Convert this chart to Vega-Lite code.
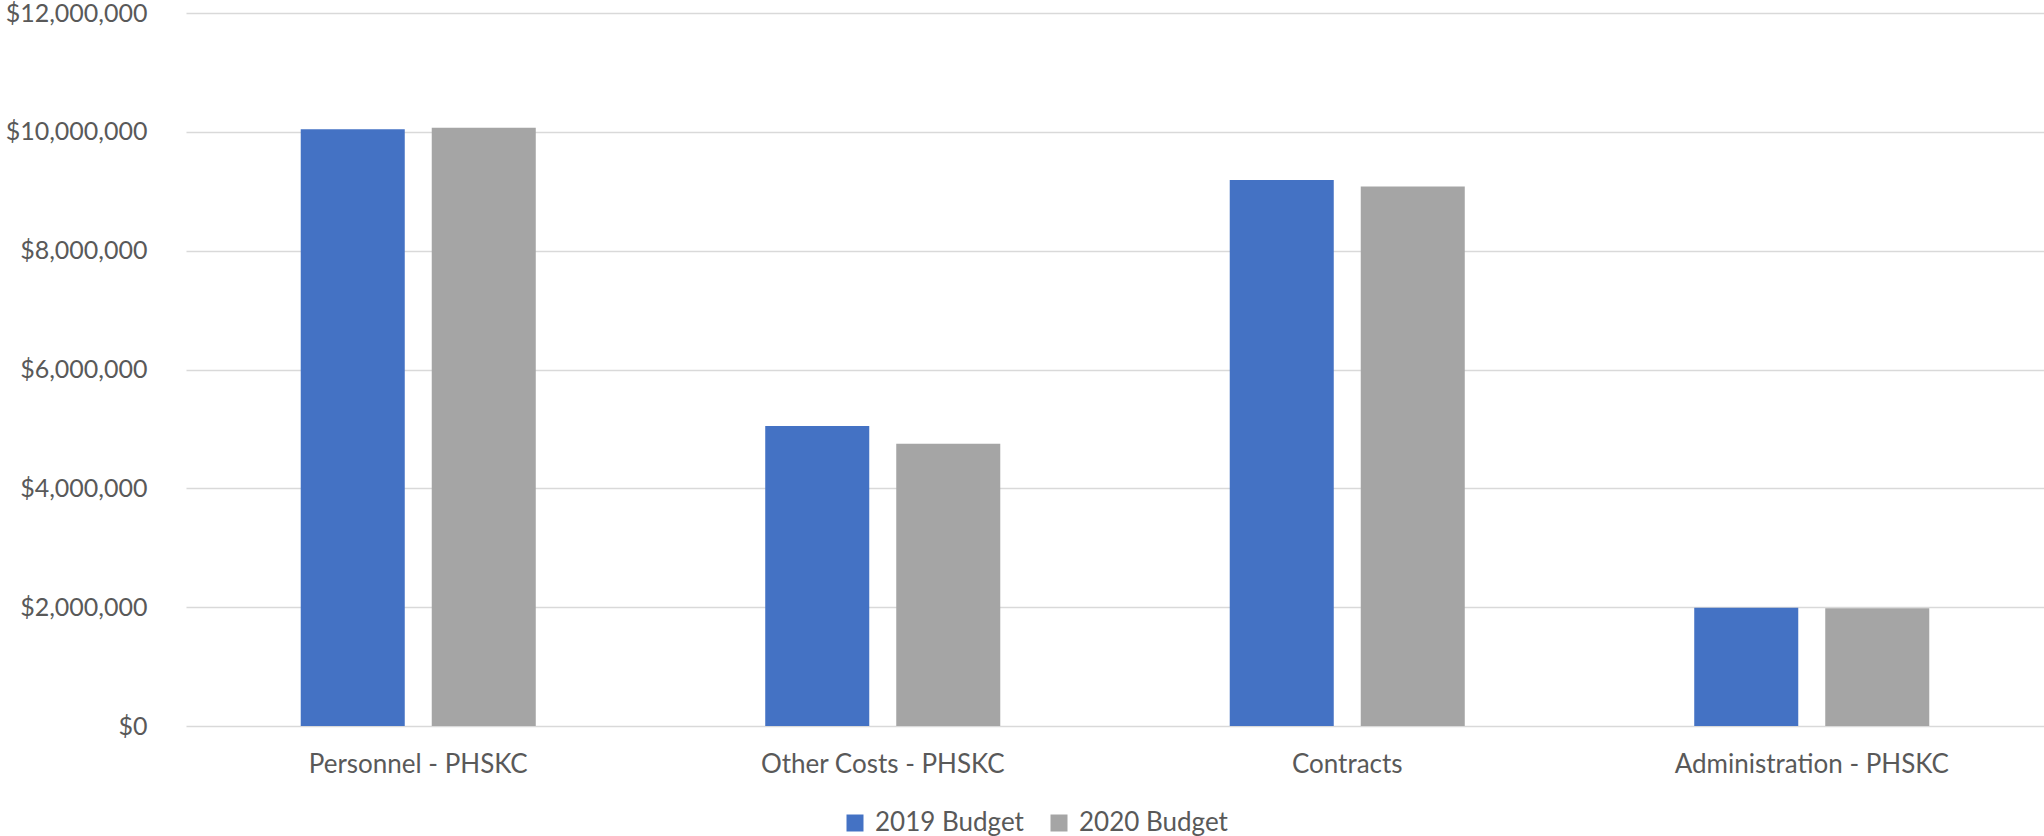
{
  "$schema": "https://vega.github.io/schema/vega-lite/v6.json",
  "autosize": {"type": "none"},
  "width": 1858,
  "height": 713,
  "padding": {"left": 186, "top": 13, "right": 0, "bottom": 110},
  "background": "white",
  "config": {
    "view": {"stroke": null},
    "font": "Lato",
    "axis": {"labelFont": "Lato", "labelColor": "#595959", "gridColor": "#D9D9D9", "gridWidth": 1.3, "domain": false, "ticks": false, "title": null, "labelLimit": 0},
    "legend": {"labelFont": "Lato", "labelColor": "#595959", "labelLimit": 0}
  },
  "data": {
    "values": [
      {"category": "Personnel - PHSKC", "series": "2019 Budget", "amount": 10045000},
      {"category": "Personnel - PHSKC", "series": "2020 Budget", "amount": 10070000},
      {"category": "Other Costs - PHSKC", "series": "2019 Budget", "amount": 5050000},
      {"category": "Other Costs - PHSKC", "series": "2020 Budget", "amount": 4750000},
      {"category": "Contracts", "series": "2019 Budget", "amount": 9190000},
      {"category": "Contracts", "series": "2020 Budget", "amount": 9080000},
      {"category": "Administration - PHSKC", "series": "2019 Budget", "amount": 1990000},
      {"category": "Administration - PHSKC", "series": "2020 Budget", "amount": 1980000}
    ]
  },
  "mark": {"type": "bar"},
  "encoding": {
    "x": {
      "field": "category",
      "type": "nominal",
      "sort": ["Personnel - PHSKC", "Other Costs - PHSKC", "Contracts", "Administration - PHSKC"],
      "scale": {"paddingInner": 0.494, "paddingOuter": 0.247},
      "axis": {"labelAngle": 0, "labelFontSize": 26, "labelPadding": 25, "grid": false, "labelLimit": 0}
    },
    "xOffset": {
      "field": "series",
      "type": "nominal",
      "scale": {"paddingInner": 0.206, "paddingOuter": 0}
    },
    "y": {
      "field": "amount",
      "type": "quantitative",
      "scale": {"domain": [0, 12000000], "nice": false},
      "axis": {"values": [0, 2000000, 4000000, 6000000, 8000000, 10000000, 12000000], "format": "$,.0f", "labelFontSize": 25, "labelPadding": 39, "grid": true}
    },
    "color": {
      "field": "series",
      "type": "nominal",
      "scale": {"domain": ["2019 Budget", "2020 Budget"], "range": ["#4472C4", "#A5A5A5"]},
      "legend": {
        "title": null,
        "orient": "none",
        "direction": "horizontal",
        "legendX": 656,
        "legendY": 797,
        "symbolType": "square",
        "symbolSize": 289,
        "symbolStrokeWidth": 0,
        "labelFontSize": 26,
        "labelOffset": 7,
        "columnPadding": 22
      }
    }
  }
}
